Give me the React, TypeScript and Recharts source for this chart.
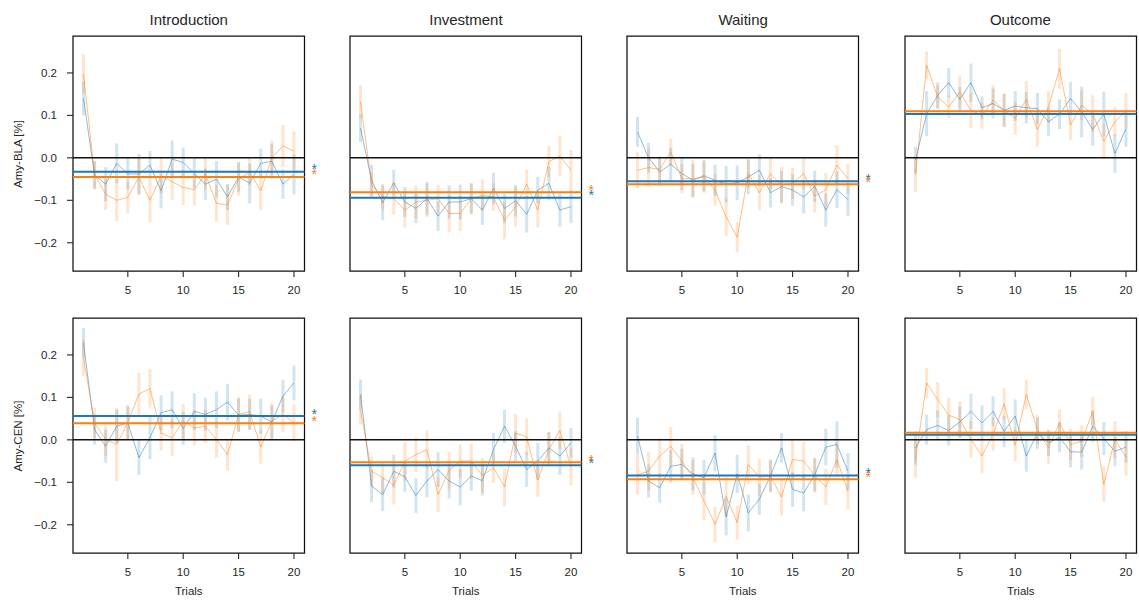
import React from 'react';
import { ComposedChart, Line, XAxis, YAxis, ErrorBar, ReferenceLine, ReferenceArea } from 'recharts';

// ---------- data ----------
const trials = [1, 2, 3, 4, 5, 6, 7, 8, 9, 10, 11, 12, 13, 14, 15, 16, 17, 18, 19, 20];
const phaseTitles = ['Introduction', 'Investment', 'Waiting', 'Outcome'];
const regionLabels = ['Amy-BLA [%]', 'Amy-CEN [%]'];
const yTicks = [-0.2, -0.1, 0, 0.1, 0.2];
const xTicks = [5, 10, 15, 20];

// Amy-BLA row
const blaIntroBlue = [0.14, -0.041, -0.062, -0.013, -0.038, -0.038, -0.017, -0.078, -0.003, -0.011, -0.037, -0.062, -0.05, -0.092, -0.045, -0.06, -0.013, -0.008, -0.062, -0.039];
const blaIntroBlueErr = [0.04, 0.033, 0.04, 0.047, 0.037, 0.047, 0.033, 0.041, 0.044, 0.035, 0.035, 0.037, 0.043, 0.031, 0.035, 0.047, 0.035, 0.041, 0.035, 0.047];
const blaIntroOrange = [0.198, -0.04, -0.086, -0.1, -0.093, -0.045, -0.1, -0.043, -0.056, -0.07, -0.075, -0.038, -0.107, -0.111, -0.05, -0.033, -0.078, 0.0, 0.028, 0.016];
const blaIntroOrangeErr = [0.046, 0.033, 0.037, 0.049, 0.037, 0.043, 0.051, 0.041, 0.043, 0.041, 0.037, 0.037, 0.043, 0.047, 0.039, 0.033, 0.045, 0.041, 0.05, 0.046];

const blaInvestBlue = [0.07, -0.053, -0.106, -0.059, -0.104, -0.119, -0.096, -0.137, -0.104, -0.104, -0.096, -0.123, -0.072, -0.119, -0.101, -0.133, -0.076, -0.06, -0.123, -0.115];
const blaInvestBlueErr = [0.033, 0.037, 0.041, 0.031, 0.035, 0.035, 0.039, 0.035, 0.039, 0.041, 0.035, 0.035, 0.037, 0.035, 0.037, 0.043, 0.031, 0.039, 0.039, 0.039];
const blaInvestOrange = [0.132, -0.064, -0.092, -0.096, -0.123, -0.104, -0.1, -0.096, -0.131, -0.131, -0.096, -0.088, -0.092, -0.147, -0.115, -0.062, -0.123, -0.009, 0.004, -0.029];
const blaInvestOrangeErr = [0.039, 0.031, 0.031, 0.037, 0.041, 0.039, 0.039, 0.033, 0.043, 0.041, 0.037, 0.037, 0.033, 0.045, 0.047, 0.035, 0.041, 0.037, 0.048, 0.048];

const blaWaitBlue = [0.061, 0.0, -0.033, -0.015, -0.037, -0.053, -0.042, -0.053, -0.062, -0.059, -0.045, -0.029, -0.082, -0.068, -0.076, -0.092, -0.067, -0.123, -0.075, -0.098];
const blaWaitBlueErr = [0.035, 0.035, 0.033, 0.039, 0.039, 0.039, 0.037, 0.037, 0.043, 0.041, 0.041, 0.037, 0.035, 0.037, 0.037, 0.039, 0.037, 0.039, 0.043, 0.039];
const blaWaitOrange = [-0.029, -0.023, -0.027, 0.014, -0.049, -0.049, -0.045, -0.076, -0.139, -0.187, -0.037, -0.082, -0.037, -0.065, -0.06, -0.037, -0.09, -0.075, -0.017, -0.049];
const blaWaitOrangeErr = [0.043, 0.045, 0.03, 0.031, 0.035, 0.045, 0.037, 0.037, 0.045, 0.035, 0.035, 0.041, 0.037, 0.043, 0.037, 0.037, 0.039, 0.039, 0.047, 0.035];

const blaOutcomeBlue = [-0.005, 0.104, 0.147, 0.177, 0.138, 0.177, 0.118, 0.128, 0.112, 0.122, 0.118, 0.116, 0.085, 0.103, 0.14, 0.108, 0.067, 0.103, 0.01, 0.069];
const blaOutcomeBlueErr = [0.031, 0.053, 0.031, 0.035, 0.029, 0.045, 0.027, 0.035, 0.039, 0.035, 0.037, 0.037, 0.033, 0.035, 0.039, 0.06, 0.039, 0.053, 0.045, 0.043];
const blaOutcomeOrange = [-0.041, 0.218, 0.144, 0.12, 0.155, 0.112, 0.1, 0.136, 0.112, 0.093, 0.138, 0.067, 0.12, 0.21, 0.077, 0.124, 0.104, 0.039, 0.085, 0.112];
const blaOutcomeOrangeErr = [0.039, 0.033, 0.027, 0.027, 0.039, 0.041, 0.031, 0.035, 0.039, 0.039, 0.043, 0.041, 0.037, 0.047, 0.035, 0.035, 0.043, 0.041, 0.035, 0.041];

// Amy-CEN row
const cenIntroBlue = [0.228, 0.024, -0.015, 0.032, 0.04, -0.042, 0.005, 0.064, 0.071, 0.027, 0.067, 0.06, 0.071, 0.089, 0.058, 0.06, 0.056, 0.042, 0.103, 0.134];
const cenIntroBlueErr = [0.035, 0.035, 0.039, 0.039, 0.039, 0.041, 0.05, 0.041, 0.043, 0.039, 0.043, 0.039, 0.043, 0.043, 0.039, 0.037, 0.041, 0.039, 0.039, 0.041];
const cenIntroOrange = [0.193, 0.04, 0.001, -0.011, 0.042, 0.108, 0.121, 0.016, 0.005, 0.044, 0.028, 0.032, 0.001, -0.035, 0.06, 0.066, -0.017, 0.044, 0.06, 0.04];
const cenIntroOrangeErr = [0.043, 0.035, 0.039, 0.086, 0.041, 0.05, 0.045, 0.041, 0.043, 0.041, 0.041, 0.039, 0.043, 0.037, 0.041, 0.041, 0.039, 0.043, 0.041, 0.043];

const cenInvestBlue = [0.107, -0.109, -0.129, -0.074, -0.087, -0.131, -0.097, -0.07, -0.097, -0.111, -0.085, -0.096, -0.023, 0.032, -0.015, -0.07, -0.05, -0.019, -0.038, -0.007];
const cenInvestBlueErr = [0.035, 0.037, 0.039, 0.039, 0.035, 0.041, 0.039, 0.041, 0.041, 0.043, 0.035, 0.035, 0.039, 0.039, 0.035, 0.041, 0.043, 0.037, 0.045, 0.035];
const cenInvestOrange = [0.071, -0.074, -0.089, -0.107, -0.05, -0.035, -0.023, -0.129, -0.072, -0.05, -0.05, -0.084, -0.066, -0.111, 0.016, 0.007, -0.095, -0.023, 0.022, -0.064];
const cenInvestOrangeErr = [0.035, 0.035, 0.037, 0.045, 0.045, 0.041, 0.045, 0.041, 0.043, 0.039, 0.041, 0.041, 0.035, 0.045, 0.045, 0.043, 0.039, 0.041, 0.045, 0.043];

const cenWaitBlue = [0.009, -0.097, -0.113, -0.062, -0.058, -0.08, -0.089, -0.031, -0.182, -0.08, -0.172, -0.14, -0.085, -0.019, -0.117, -0.125, -0.082, -0.017, -0.011, -0.074];
const cenWaitBlueErr = [0.043, 0.039, 0.035, 0.039, 0.037, 0.039, 0.041, 0.043, 0.043, 0.045, 0.043, 0.037, 0.037, 0.035, 0.041, 0.043, 0.039, 0.043, 0.055, 0.043];
const cenWaitOrange = [-0.082, -0.074, -0.038, -0.015, -0.05, -0.089, -0.144, -0.199, -0.133, -0.195, -0.058, -0.088, -0.085, -0.135, -0.046, -0.05, -0.084, -0.111, -0.046, -0.122];
const cenWaitOrangeErr = [0.047, 0.045, 0.041, 0.045, 0.041, 0.041, 0.045, 0.041, 0.045, 0.04, 0.045, 0.043, 0.039, 0.043, 0.047, 0.045, 0.041, 0.043, 0.041, 0.041];

const cenOutcomeBlue = [-0.019, 0.024, 0.034, 0.022, 0.042, 0.067, 0.04, 0.067, 0.02, 0.056, -0.038, 0.016, -0.007, 0.006, -0.028, -0.029, 0.032, 0.003, -0.027, -0.017];
const cenOutcomeBlueErr = [0.039, 0.035, 0.035, 0.035, 0.037, 0.041, 0.041, 0.035, 0.037, 0.039, 0.037, 0.037, 0.031, 0.035, 0.037, 0.041, 0.037, 0.039, 0.035, 0.037];
const cenOutcomeOrange = [-0.046, 0.134, 0.095, 0.058, 0.048, 0.001, -0.038, 0.013, 0.085, -0.013, 0.107, 0.024, -0.019, 0.04, -0.011, -0.003, 0.067, -0.105, 0.001, -0.041];
const cenOutcomeOrangeErr = [0.043, 0.035, 0.041, 0.041, 0.043, 0.043, 0.041, 0.039, 0.037, 0.037, 0.035, 0.035, 0.037, 0.031, 0.037, 0.037, 0.035, 0.041, 0.043, 0.043];

// means (horizontal lines) and significance stars, per phase
const blaMeanBlue = [-0.033, -0.094, -0.055, 0.103];
const blaMeanOrange = [-0.045, -0.081, -0.062, 0.11];
const cenMeanBlue = [0.056, -0.06, -0.084, 0.012];
const cenMeanOrange = [0.039, -0.053, -0.093, 0.017];
const blaStars = [true, true, true, false];
const cenStars = [true, true, true, false];

// ---------- styling / layout ----------
const BLUE = '#1f77b4';
const ORANGE = '#ff7f0e';
const INK = '#262626';
const FONT = '"Liberation Sans", Arial, Helvetica, sans-serif';
const PANEL_LEFTS = [73, 350.2, 627.4, 904.6];
const ROW_TOPS = [36, 318.3];
const PANEL_W = 231.5;
const PANEL_H = 235;
const Y_AXIS_W = 65;
const TOP_PAD = 10;
const RIGHT_PAD = 25;
const X_AXIS_H = 50;
const X_DOMAIN: [number, number] = [0.05, 20.95];
const Y_DOMAIN: [number, number] = [-0.2665, 0.287];

const fmtY = (v: number) => (v < -1e-9 ? '\u2212' : '') + Math.abs(v).toFixed(1);

const starLabel = (color: string) => (props: any) => {
  const vb = props.viewBox || {};
  const x = (vb.x ?? 0) + (vb.width ?? 0) + 7;
  const y = (vb.y ?? 0) + 2.5;
  return (
    <text x={x} y={y} fill={color} fontSize={14} fontFamily={FONT} textAnchor="start">
      *
    </text>
  );
};

type PanelProps = {
  blue: number[];
  blueErr: number[];
  orange: number[];
  orangeErr: number[];
  meanBlue: number;
  meanOrange: number;
  star: boolean;
  col: number;
  row: number;
};

function Panel({ blue, blueErr, orange, orangeErr, meanBlue, meanOrange, star, col, row }: PanelProps) {
  const data = trials.map((t, i) => ({
    trial: t,
    blue: blue[i],
    blueErr: blueErr[i],
    orange: orange[i],
    orangeErr: orangeErr[i],
  }));
  const left = PANEL_LEFTS[col] - Y_AXIS_W;
  const top = ROW_TOPS[row] - TOP_PAD;
  return (
    <div style={{ position: 'absolute', left, top }}>
      <ComposedChart
        width={Y_AXIS_W + PANEL_W + RIGHT_PAD}
        height={TOP_PAD + PANEL_H + X_AXIS_H}
        data={data}
        margin={{ top: TOP_PAD, right: RIGHT_PAD, bottom: 0, left: 0 }}
      >
        <XAxis
          dataKey="trial"
          type="number"
          domain={X_DOMAIN}
          ticks={xTicks}
          allowDataOverflow
          axisLine={false}
          tickSize={6}
          tickMargin={9}
          height={X_AXIS_H}
          tick={{ fill: INK, fontSize: 11.5, fontFamily: FONT }}
          tickLine={{ stroke: INK, strokeWidth: 1.1 }}
          label={
            row === 1
              ? { value: 'Trials', position: 'insideBottom', offset: 8, fill: INK, fontSize: 11.5, fontFamily: FONT }
              : undefined
          }
        />
        <YAxis
          type="number"
          domain={Y_DOMAIN}
          ticks={yTicks}
          allowDataOverflow
          width={Y_AXIS_W}
          axisLine={false}
          tickSize={6}
          tickMargin={10}
          tickFormatter={fmtY}
          tick={col === 0 ? { fill: INK, fontSize: 11.5, fontFamily: FONT } : false}
          tickLine={{ stroke: INK, strokeWidth: 1.1 }}
        />
        <Line
          dataKey="blue"
          stroke={BLUE}
          strokeOpacity={0.5}
          strokeWidth={1}
          dot={false}
          activeDot={false}
          isAnimationActive={false}
        >
          <ErrorBar dataKey="blueErr" width={0} stroke={BLUE} strokeOpacity={0.2} strokeWidth={3} direction="y" />
        </Line>
        <Line
          dataKey="orange"
          stroke={ORANGE}
          strokeOpacity={0.5}
          strokeWidth={1}
          dot={false}
          activeDot={false}
          isAnimationActive={false}
        >
          <ErrorBar dataKey="orangeErr" width={0} stroke={ORANGE} strokeOpacity={0.2} strokeWidth={3} direction="y" />
        </Line>
        <ReferenceLine y={0} stroke="#111111" strokeWidth={1.5} />
        <ReferenceLine y={meanBlue} stroke={BLUE} strokeWidth={2} label={star ? starLabel(BLUE) : undefined} />
        <ReferenceLine y={meanOrange} stroke={ORANGE} strokeWidth={2} label={star ? starLabel(ORANGE) : undefined} />
        <ReferenceArea
          x1={X_DOMAIN[0]}
          x2={X_DOMAIN[1]}
          y1={Y_DOMAIN[0]}
          y2={Y_DOMAIN[1]}
          fill="none"
          fillOpacity={0}
          stroke="#111111"
          strokeWidth={1.25}
          ifOverflow="visible"
        />
      </ComposedChart>
    </div>
  );
}

const blaSeries = [
  [blaIntroBlue, blaIntroBlueErr, blaIntroOrange, blaIntroOrangeErr],
  [blaInvestBlue, blaInvestBlueErr, blaInvestOrange, blaInvestOrangeErr],
  [blaWaitBlue, blaWaitBlueErr, blaWaitOrange, blaWaitOrangeErr],
  [blaOutcomeBlue, blaOutcomeBlueErr, blaOutcomeOrange, blaOutcomeOrangeErr],
];
const cenSeries = [
  [cenIntroBlue, cenIntroBlueErr, cenIntroOrange, cenIntroOrangeErr],
  [cenInvestBlue, cenInvestBlueErr, cenInvestOrange, cenInvestOrangeErr],
  [cenWaitBlue, cenWaitBlueErr, cenWaitOrange, cenWaitOrangeErr],
  [cenOutcomeBlue, cenOutcomeBlueErr, cenOutcomeOrange, cenOutcomeOrangeErr],
];

export default function App() {
  const rows = [
    { series: blaSeries, meanB: blaMeanBlue, meanO: blaMeanOrange, stars: blaStars },
    { series: cenSeries, meanB: cenMeanBlue, meanO: cenMeanOrange, stars: cenStars },
  ];
  return (
    <div
      style={{
        position: 'absolute',
        left: 0,
        top: 0,
        width: 1139,
        height: 601,
        overflow: 'hidden',
        background: '#ffffff',
        fontFamily: FONT,
        color: INK,
      }}
    >
      {phaseTitles.map((t, c) => (
        <div
          key={t}
          style={{
            position: 'absolute',
            left: PANEL_LEFTS[c],
            top: 11.6,
            width: PANEL_W,
            textAlign: 'center',
            fontSize: 15,
            lineHeight: '15px',
            whiteSpace: 'nowrap',
          }}
        >
          {t}
        </div>
      ))}
      {regionLabels.map((lab, r) => (
        <div
          key={lab}
          style={{
            position: 'absolute',
            left: 17.5 - 100,
            top: ROW_TOPS[r] + PANEL_H / 2 - 7,
            width: 200,
            height: 14,
            lineHeight: '14px',
            textAlign: 'center',
            fontSize: 11.5,
            whiteSpace: 'nowrap',
            transform: 'rotate(-90deg)',
          }}
        >
          {lab}
        </div>
      ))}
      {rows.map((rw, r) =>
        rw.series.map((s, c) => (
          <Panel
            key={`${r}-${c}`}
            blue={s[0]}
            blueErr={s[1]}
            orange={s[2]}
            orangeErr={s[3]}
            meanBlue={rw.meanB[c]}
            meanOrange={rw.meanO[c]}
            star={rw.stars[c]}
            col={c}
            row={r}
          />
        ))
      )}
    </div>
  );
}
